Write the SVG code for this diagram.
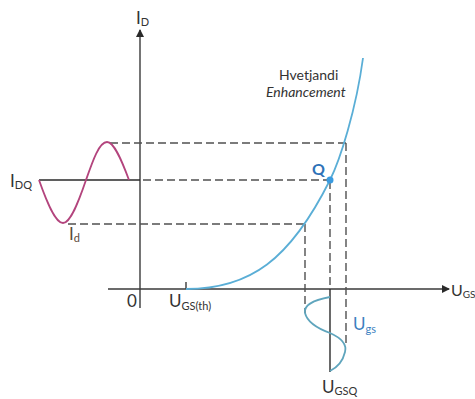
<svg xmlns="http://www.w3.org/2000/svg" width="475" height="399" viewBox="0 0 475 399">
  <style>
    .axis { stroke: #3a3a3a; stroke-width: 1.4; fill: none; }
    .dash { stroke: #505050; stroke-width: 1.4; fill: none; stroke-dasharray: 8 4; }
    .solid { stroke: #2a2a2a; stroke-width: 1.4; fill: none; }
    .blue { stroke: #5aaed6; stroke-width: 1.8; fill: none; }
    .teal { stroke: #5fa5bd; stroke-width: 1.8; fill: none; }
    .mag { stroke: #b3447d; stroke-width: 1.8; fill: none; }
    .lbl { font-family: Lato, "Open Sans", "Liberation Sans", sans-serif; fill: #333333; font-size: 17px; }
    .sub { font-size: 11px; }
  </style>
  <defs>
    <marker id="arrow" markerWidth="8" markerHeight="8" refX="7" refY="4" orient="auto" markerUnits="userSpaceOnUse">
      <path d="M0,0 L8,4 L0,8 Z" fill="#2a2a2a"/>
    </marker>
  </defs>
  <rect width="475" height="399" fill="#ffffff"/>

  <g id="connectors">
    <!-- axes -->
    <line class="axis" x1="140" y1="308" x2="140" y2="30" marker-end="url(#arrow)"/>
    <line class="axis" x1="108" y1="289" x2="449" y2="289" marker-end="url(#arrow)"/>
    <line class="axis" x1="186" y1="282" x2="186" y2="289"/>
    <!-- I_DQ solid line -->
    <line class="solid" x1="39" y1="180" x2="140" y2="180"/>
    <!-- dashed projections -->
    <line class="dash" x1="110" y1="143" x2="346" y2="143"/>
    <line class="dash" x1="143" y1="180" x2="330" y2="180"/>
    <line class="dash" x1="68" y1="224" x2="305" y2="224"/>
    <line class="dash" x1="346" y1="143" x2="346" y2="347"/>
    <line class="dash" x1="330" y1="181" x2="330" y2="289"/>
    <line class="dash" x1="305" y1="224" x2="305" y2="313"/>
    <line class="solid" x1="330" y1="289" x2="330" y2="372"/>
  </g>

  <g id="transfer-curve">
    <path class="blue" d="M186,289 C250,289 290,260 330,180 C340,160 356,110 363,58"/>
  </g>

  <g id="id-signal">
    <path class="mag" d="M39,180 C46.8,202 55.3,223 63,223 C70.5,223 78.5,202 86,180 C92.8,160.5 99.2,142 107,142 C114.2,142 121.8,160.5 129,180"/>
  </g>

  <g id="ugs-signal">
    <path class="teal" d="M330,297 Q303,302 305,313 Q308,325 330,333 Q348,341 345,352 Q342,365 330,371"/>
  </g>

  <g id="point-q">
    <circle cx="330" cy="180" r="3.5" fill="#3a9be0"/>
    <text x="312" y="175" font-family="Lato, 'Open Sans', 'Liberation Sans', sans-serif" font-size="16" font-weight="bold" fill="#2e72b8">Q</text>
  </g>

  <g id="label-id-axis">
    <text class="lbl" x="136" y="24" font-size="18">I<tspan class="sub" dy="2">D</tspan></text>
  </g>
  <g id="label-idq">
    <text class="lbl" x="10" y="187" font-size="18">I<tspan class="sub" dy="2">DQ</tspan></text>
  </g>
  <g id="label-id">
    <text class="lbl" x="69" y="240" style="fill:#5c4b3a">I<tspan class="sub" dy="2">d</tspan></text>
  </g>
  <g id="label-zero">
    <text class="lbl" x="127" y="307">0</text>
  </g>
  <g id="label-ugsth">
    <text class="lbl" x="169" y="307">U<tspan class="sub" dy="3">GS(th)</tspan></text>
  </g>
  <g id="label-ugs-axis">
    <text class="lbl" x="451" y="296" style="font-size:16px">U<tspan dy="2" style="font-size:10px">GS</tspan></text>
  </g>
  <g id="label-ugs">
    <text class="lbl" x="353" y="330" style="fill:#3d7fc0">U<tspan class="sub" dy="3">gs</tspan></text>
  </g>
  <g id="label-ugsq">
    <text class="lbl" x="322" y="393">U<tspan class="sub" dy="2">GSQ</tspan></text>
  </g>
  <g id="label-enhancement">
    <text class="lbl" x="279" y="80" style="font-size:14px">Hvetjandi</text>
    <text class="lbl" x="266" y="97" style="font-size:14px;font-style:italic">Enhancement</text>
  </g>
</svg>
